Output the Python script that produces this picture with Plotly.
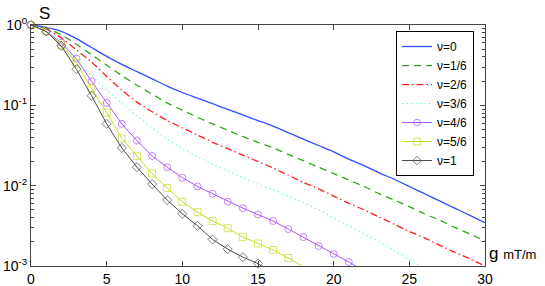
import plotly.graph_objects as go

# gradient strength g (mT/m)
g = list(range(0, 31))

# log10 of the signal S, one list per nu
log_s_nu0 = [0, -0.03, -0.08, -0.17, -0.28, -0.39, -0.49, -0.58, -0.67, -0.76,
             -0.84, -0.91, -0.98, -1.05, -1.12, -1.19, -1.26, -1.34, -1.42, -1.50,
             -1.58, -1.67, -1.75, -1.84, -1.92, -2.01, -2.10, -2.19, -2.28, -2.37, -2.46]
log_s_nu1_6 = [0, -0.04, -0.12, -0.24, -0.37, -0.50, -0.63, -0.75, -0.86, -0.97,
               -1.06, -1.15, -1.23, -1.31, -1.39, -1.46, -1.53, -1.61, -1.69, -1.77,
               -1.85, -1.93, -2.01, -2.10, -2.18, -2.26, -2.35, -2.43, -2.52, -2.60, -2.69]
log_s_nu2_6 = [0, -0.05, -0.16, -0.31, -0.46, -0.64, -0.81, -0.96, -1.08, -1.19,
               -1.28, -1.37, -1.46, -1.54, -1.62, -1.70, -1.78, -1.87, -1.96, -2.04,
               -2.13, -2.22, -2.30, -2.39, -2.48, -2.57, -2.65, -2.74, -2.83, -2.91, -3.00]
log_s_nu3_6 = [0, -0.07, -0.25, -0.44, -0.63, -0.81, -0.97, -1.13, -1.28, -1.42,
               -1.54, -1.64, -1.73, -1.82, -1.90, -1.98, -2.05, -2.13, -2.21, -2.30,
               -2.40, -2.50, -2.60, -2.70, -2.81, -2.92, -3.03]
log_s_nu4_6 = [0, -0.08, -0.22, -0.42, -0.70, -0.97, -1.23, -1.44, -1.63, -1.77,
               -1.90, -2.01, -2.10, -2.20, -2.28, -2.36, -2.44, -2.54, -2.64, -2.75,
               -2.85, -2.95, -3.06]
log_s_nu5_6 = [0, -0.08, -0.25, -0.47, -0.79, -1.09, -1.41, -1.63, -1.85, -2.03,
               -2.20, -2.33, -2.44, -2.53, -2.64, -2.72, -2.80, -2.90, -3.01]
log_s_nu1 = [0, -0.08, -0.26, -0.55, -0.88, -1.23, -1.53, -1.77, -1.98, -2.18,
             -2.35, -2.50, -2.67, -2.79, -2.89, -2.97, -3.10]

names = ["\u03bd=0", "\u03bd=1/6", "\u03bd=2/6", "\u03bd=3/6", "\u03bd=4/6", "\u03bd=5/6", "\u03bd=1"]
y_tick_exponents = [-3, -2, -1, 0]
x_ticks = [0, 5, 10, 15, 20, 25, 30]

series = [log_s_nu0, log_s_nu1_6, log_s_nu2_6, log_s_nu3_6, log_s_nu4_6, log_s_nu5_6, log_s_nu1]
styles = [
    dict(color="#2f4fff", dash="solid", symbol=None, shape="spline"),
    dict(color="#2ea81a", dash="7px,5px", symbol=None, shape="spline"),
    dict(color="#ff2020", dash="7px,3px,1.5px,3px", symbol=None, shape="spline"),
    dict(color="#7fffd4", dash="1.5px,3px", symbol=None, shape="spline"),
    dict(color="#aa55ff", dash="solid", symbol="circle-open", shape="linear"),
    dict(color="#c8dc1e", dash="solid", symbol="square-open", shape="linear"),
    dict(color="#4a4a4a", dash="solid", symbol="diamond-open", shape="linear"),
]

FONT = "Liberation Sans, Arial, sans-serif"
fig = go.Figure()
for name, vals, st in zip(names, series, styles):
    xs = g[:len(vals)]
    ys = [10 ** v for v in vals]
    if st["symbol"]:
        sizes = [7 if v >= -3.0 else 0 for v in vals]
        fig.add_trace(go.Scatter(
            x=xs, y=ys, name=name, mode="lines+markers", cliponaxis=False,
            line=dict(color=st["color"], width=1, shape=st["shape"]),
            marker=dict(symbol=st["symbol"], size=sizes, color=st["color"],
                        line=dict(width=1, color=st["color"]))))
    else:
        fig.add_trace(go.Scatter(
            x=xs, y=ys, name=name, mode="lines",
            line=dict(color=st["color"], width=1.3, dash=st["dash"],
                      shape=st["shape"], smoothing=0.6)))

minor_vals = [m * 10 ** e for e in [-3, -2, -1] for m in range(2, 10)]

fig.update_layout(
    width=545, height=286,
    margin=dict(l=31, r=60, t=25, b=20, autoexpand=False),
    paper_bgcolor="white", plot_bgcolor="white",
    font=dict(family=FONT, size=14, color="black"),
    showlegend=True,
    legend=dict(x=0.804, y=0.975, xanchor="left", yanchor="top",
                bgcolor="white", bordercolor="black", borderwidth=1,
                font=dict(family=FONT, size=12, color="black"),
                tracegroupgap=0),
    xaxis=dict(range=[0, 30], tickvals=x_ticks, ticks="inside", ticklen=5,
               tickcolor="#444", showline=True, linecolor="#444", linewidth=1,
               mirror="ticks", showgrid=False, zeroline=False, automargin=False,
               tickfont=dict(size=14)),
    yaxis=dict(type="log", range=[-3, 0],
               tickvals=[10 ** e for e in y_tick_exponents],
               ticktext=["10<sup>%d</sup>" % e for e in y_tick_exponents],
               ticks="inside", ticklen=5, tickcolor="#444", automargin=False,
               showline=True, linecolor="#444", linewidth=1, mirror="ticks",
               showgrid=False, zeroline=False, tickfont=dict(size=14),
               minor=dict(tickvals=minor_vals, ticks="inside", ticklen=3,
                          tickcolor="#444", showgrid=False)),
    annotations=[
        dict(text="S", xref="paper", yref="paper", x=0.03, y=1.0, yshift=12,
             xanchor="center", yanchor="middle", showarrow=False,
             font=dict(family=FONT, size=17)),
        dict(text="g <span style='font-size:13px'>mT/m</span>", xref="paper", yref="paper",
             x=1.0, xshift=2, y=0.05, xanchor="left", yanchor="middle",
             showarrow=False, font=dict(family=FONT, size=17)),
    ],
)

fig.write_html("out.html", config={"displayModeBar": False},
               post_script="document.body.style.margin='0';document.body.style.padding='0';")
